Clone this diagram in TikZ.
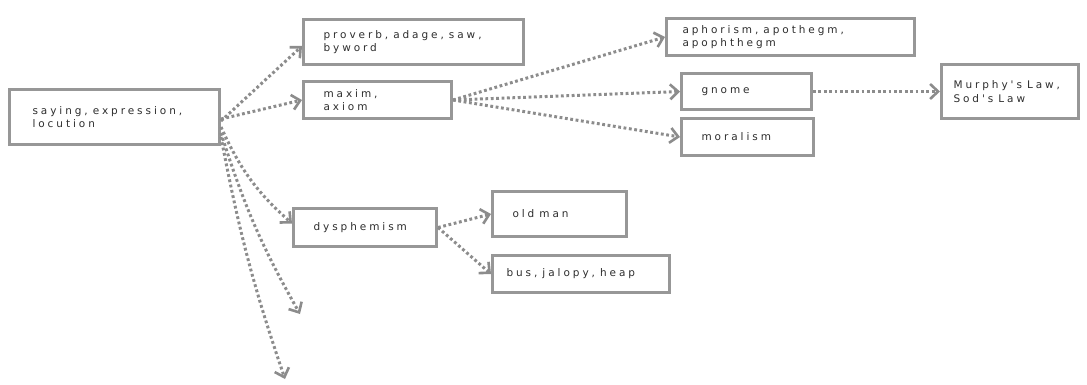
\documentclass[tikz,border=0pt]{standalone}
\usepackage{fontspec}
\setmainfont{DejaVu Sans}
\newfontfamily\boxfont{DejaVu Sans}[LetterSpace=28]
\newcommand\gap{\hspace{5pt}}
\usetikzlibrary{arrows.meta,shadows}
\definecolor{boxgray}{HTML}{979797}
\definecolor{linkgray}{HTML}{8C8C8C}
\definecolor{inkgray}{HTML}{2E2E2E}

\tikzset{
  wordbox/.style={draw=boxgray,line width=3pt,fill=white,anchor=north west,
    align=left,inner xsep=20pt,inner ysep=2pt,font=\boxfont\fontsize{10.5}{13.5}\selectfont,
    text=inkgray,drop shadow={opacity=.2,shadow xshift=1pt,shadow yshift=-1.5pt}},
  link/.style={draw=linkgray,line width=3pt,dash pattern=on 2.8pt off 2.6pt,
    -{Straight Barb[length=8pt,width=15pt,line width=2.6pt]}}
}

\begin{document}
\begin{tikzpicture}[x=1pt,y=-1pt]
\useasboundingbox (0,0) rectangle (1087,385);
% boxes
\node[wordbox,inner xsep=23pt,text width=164pt,minimum height=55pt] (saying) at (8,88) {saying,\gap expression,\\locution};
\node[wordbox,text width=180pt,minimum height=45pt] (proverb) at (302,18) {proverb,\gap adage,\gap saw,\\byword};
\node[wordbox,text width=108pt,minimum height=37pt] (maxim) at (302,80) {maxim,\\axiom};
\node[wordbox,inner xsep=16pt,text width=216pt,minimum height=37pt] (aphorism) at (665,17) {aphorism,\gap apothegm,\\apophthegm};
\node[wordbox,text width=90pt,minimum height=36pt] (gnome) at (680,72) {gnome};
\node[wordbox,text width=92pt,minimum height=37pt] (moralism) at (680,117) {moralism};
\node[wordbox,inner xsep=12pt,text width=113pt,minimum height=54pt] (murphy) at (940,63) {Murphy's\gap Law,\\Sod's\gap Law};
\node[wordbox,text width=103pt,minimum height=38pt] (dysphemism) at (292,207) {dysphemism};
\node[wordbox,text width=94pt,minimum height=45pt] (oldman) at (491,190) {old\gap man};
\node[wordbox,inner xsep=14pt,text width=149pt,minimum height=37pt] (bus) at (491,254) {bus,\gap jalopy,\gap heap};
\coordinate (free1) at (300,314);
\coordinate (free2) at (285,379);
% links
\draw[link] ([yshift=-4pt]saying.east) -- ([yshift=-4pt]proverb.west);
\draw[link] ([yshift=-2pt]saying.east) -- (maxim.west);
\draw[link] ([yshift=-10pt]saying.east) to[bend right=12] ([yshift=4pt]dysphemism.west);
\draw[link] ([yshift=-16pt]saying.east) to[bend right=6] (free1);
\draw[link] ([yshift=-20pt]saying.east) to[bend right=4] (free2);
\draw[link] (maxim.east) -- (aphorism.west);
\draw[link] (maxim.east) -- (gnome.west);
\draw[link] (maxim.east) -- (moralism.west);
\draw[link] (gnome.east) -- (murphy.west);
\draw[link] (dysphemism.east) -- (oldman.west);
\draw[link] (dysphemism.east) -- (bus.west);
\end{tikzpicture}
\end{document}
